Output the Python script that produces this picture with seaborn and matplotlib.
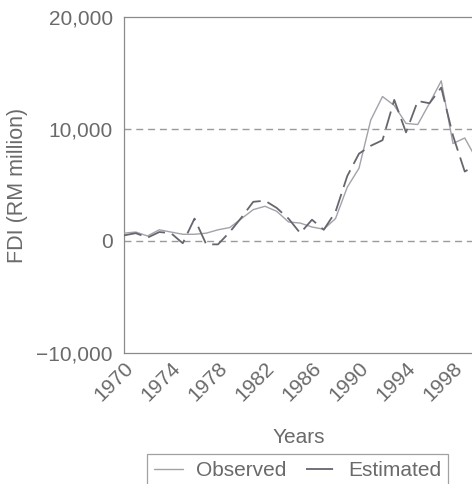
import matplotlib
matplotlib.use("Agg")
import matplotlib.pyplot as plt
from matplotlib.lines import Line2D
from matplotlib.ticker import FuncFormatter
import seaborn as sns
import pandas as pd

# FDI inflows, RM million
years = list(range(1970, 2001))
observed = [700, 800, 450, 1000, 800, 600, 600, 700, 1000, 1200,
            2000, 2800, 3100, 2650, 1700, 1600, 1250, 1050, 2000, 4800,
            6500, 10800, 12900, 12100, 10500, 10400, 12300, 14300, 8700, 9200,
            7300]
estimated = [500, 700, 300, 800, 700, -200, 2000, -300, -300, 800,
             2100, 3500, 3600, 2950, 2000, 700, 1900, 1000, 2600, 5800,
             7800, 8500, 9000, 12600, 9700, 12500, 12300, 13700, 9400, 6200,
             6800]
series_names = ["Observed", "Estimated"]
x_ticks = list(range(1970, 1999, 4))
y_ticks = [-10000, 0, 10000, 20000]

sns.set_theme(style="white")
plt.rcParams["font.family"] = ["Liberation Sans", "DejaVu Sans"]

text_col = "#6a6a6a"
obs_col = "#a2a2aa"
est_col = "#66666e"

df = pd.DataFrame({
    "Year": years * 2,
    "FDI": observed + estimated,
    "Series": [series_names[0]] * len(years) + [series_names[1]] * len(years),
})

fig = plt.figure(figsize=(4.72, 4.84), dpi=100)
ax = fig.add_axes([124 / 472, 131 / 484, 352.5 / 472, 336 / 484])

# reference lines at 0 and 10,000
for yv in (0, 10000):
    ax.axhline(yv, color="#9a9a9a", lw=1.0, dashes=(5, 3.5), zorder=1)

sns.lineplot(data=df[df.Series == "Observed"], x="Year", y="FDI",
             color=obs_col, lw=1.0, ax=ax, zorder=3)
sns.lineplot(data=df[df.Series == "Estimated"], x="Year", y="FDI",
             color=est_col, lw=1.3, ax=ax, zorder=4, dashes=False)
ax.lines[-1].set_dashes((10, 4))

ax.set_xlim(1970, 2000)
ax.set_ylim(-10000, 20000)
ax.set_xticks(x_ticks)
ax.set_yticks(y_ticks)
ax.yaxis.set_major_formatter(FuncFormatter(
    lambda v, p: ("\u2212" if v < 0 else "") + f"{abs(int(v)):,}"))
ax.tick_params(axis="y", direction="out", length=6, width=0.8,
               color="#888888", labelsize=15, labelcolor=text_col, pad=2)
ax.tick_params(axis="x", direction="inout", length=6, width=0.8,
               color="#888888", labelsize=15, labelcolor=text_col, pad=1)
for lab in ax.get_xticklabels():
    lab.set_rotation(45)
    lab.set_ha("right")
    lab.set_rotation_mode("anchor")

for side in ("left", "bottom", "top"):
    ax.spines[side].set_color("#8a8a8a")
    ax.spines[side].set_linewidth(0.9)
ax.spines["right"].set_visible(False)

ax.set_xlabel("Years", fontsize=15, color=text_col)
ax.set_ylabel("FDI (RM million)", fontsize=15.5, color=text_col)
ax.xaxis.set_label_coords(0.496, -0.223)
ax.yaxis.set_label_coords(-0.272, 0.5)

handles = [
    Line2D([], [], color=obs_col, lw=1.0),
    Line2D([], [], color=est_col, lw=1.3, dashes=(15, 8)),
]
fig.legend(handles, series_names, loc="upper left",
           bbox_to_anchor=(147 / 472, 30 / 484), ncol=2, fontsize=15,
           frameon=True, fancybox=False, edgecolor="#8a8a8a",
           handlelength=1.4, handletextpad=0.6, columnspacing=0.95,
           borderpad=0.35, labelcolor=text_col, borderaxespad=0)
leg = fig.legends[0]
leg.get_frame().set_linewidth(0.9)

fig.savefig("out.png", dpi=100)
